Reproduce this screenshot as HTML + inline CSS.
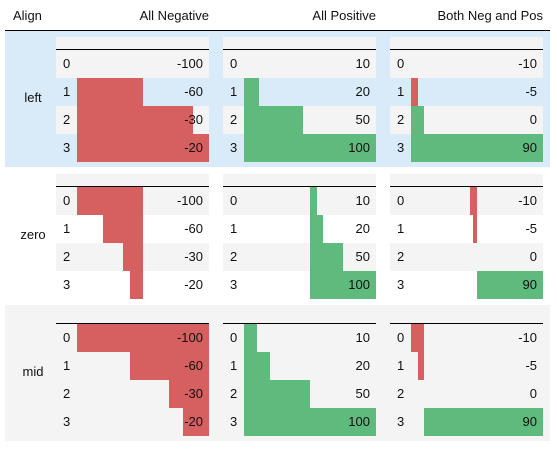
<!DOCTYPE html>
<html><head><meta charset="utf-8"><style>
body{margin:0;width:557px;height:454px;background:#fff;font-family:"Liberation Sans",sans-serif;font-size:13px;color:#111;position:relative;overflow:hidden}
div{position:absolute;box-sizing:border-box}
.t{line-height:28px;white-space:nowrap}
</style></head><body>
<div id="root" style="left:0;top:0;width:557px;height:454px"></div>
<script>
const columns=["All Negative","All Positive","Both Neg and Pos"];
const aligns=["left","zero","mid"];
const valuesNeg=[-100,-60,-30,-20];
const valuesPos=[10,20,50,100];
const valuesBoth=[-10,-5,0,90];
const series=[valuesNeg,valuesPos,valuesBoth];
const groupBg=["#d9ebf9","#ffffff","#f4f4f4"];
const root=document.getElementById('root');
function mk(parent,css,text){const d=document.createElement('div');d.style.cssText=css;if(text!==undefined)d.textContent=text;parent.appendChild(d);return d;}
let h=mk(root,"left:13px;top:2px;line-height:28px","Align");


const tableX=[56,223,390];
columns.forEach((c,i)=>{const e=mk(root,`left:${tableX[i]}px;width:153px;top:2px;text-align:right;line-height:28px`,c);

});
let ln=mk(root,"left:5px;top:30px;width:545px;height:1.5px;background:#000");


const CW=132;
function scale(vals,align){
  const mn=Math.min(...vals),mx=Math.max(...vals);
  if(align==="left"){return vals.map(v=>[0,(v-mn)/(mx-mn)*CW]);}
  if(align==="zero"){const m=Math.max(...vals.map(Math.abs));const z=CW/2;
    return vals.map(v=>{const w=Math.abs(v)/m*z;return v<0?[z-w,z]:[z,z+w];});}
  const lo=Math.min(mn,0),hi=Math.max(mx,0);const z=(0-lo)/(hi-lo)*CW;
  return vals.map(v=>{const p=(v-lo)/(hi-lo)*CW;return v<0?[p,z]:[z,p];});
}
aligns.forEach((a,g)=>{
  const gy=30+g*137;
  const grp=mk(root,`left:5px;top:${gy+1}px;width:545px;height:136px;background:${groupBg[g]}`);
  
  
  const lab=mk(root,`left:5px;width:56px;top:${gy+54}px;text-align:center;line-height:28px`,a);
  
  
  series.forEach((vals,i)=>{
    const x=tableX[i];
    const hb=mk(root,`left:${x}px;top:${gy+7}px;width:153px;height:12px;background:#f4f4f4`);
    
    
    const hl=mk(root,`left:${x}px;top:${gy+19}px;width:153px;height:1.5px;background:#000`);
    
    
    const bars=scale(vals,a);
    vals.forEach((v,r)=>{
      const ry=gy+20+r*28;
      const row=mk(root,`left:${x}px;top:${ry}px;width:153px;height:28px;background:${r%2==0?'#f4f4f4':'transparent'}`);
      
      
      const [b0,b1]=bars[r];
      if(b1-b0>0.3){const b=mk(root,`left:${x+21+b0}px;top:${ry}px;width:${b1-b0}px;height:28px;background:${v<0?'#d65f5f':'#5fba7d'}`);
        
        }
      const idx=mk(root,`left:${x+7}px;top:${ry}px`,String(r));idx.className='t';
      
      
      const val=mk(root,`left:${x}px;width:147px;top:${ry}px;text-align:right`,String(v));val.className='t';
      
      
    });
  });
});
</script>
</body></html>
